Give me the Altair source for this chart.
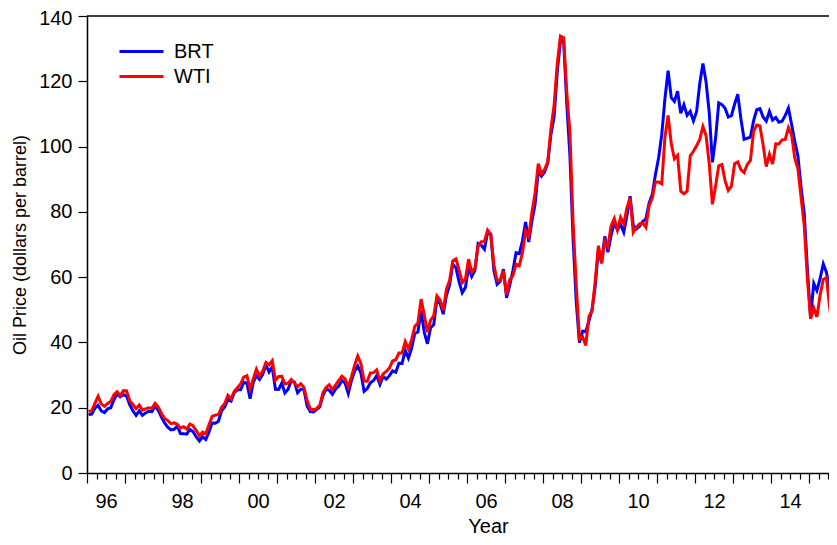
import altair as alt
import pandas as pd

# Monthly spot prices, Jan 1996 - Sep 2015 (dollars per barrel)
start_year = 1996
series_names = ["BRT", "WTI"]
series_colors = ["#0000ff", "#ff0000"]

brt = [
    17.88, 18.05, 19.90, 20.73, 19.05, 18.53, 19.64, 19.95, 22.44, 24.26, 23.31, 24.02,
    23.58, 20.90, 19.07, 17.65, 19.01, 17.65, 18.40, 18.92, 18.82, 20.59, 19.18, 17.16,
    15.37, 14.02, 13.18, 13.38, 14.36, 12.12, 12.06, 11.91, 13.36, 12.65, 11.04, 9.82,
    11.10, 10.27, 12.51, 15.29, 15.23, 15.86, 19.08, 20.22, 22.54, 22.01, 24.58, 25.48,
    25.51, 27.78, 27.49, 22.76, 27.74, 29.80, 28.68, 30.20, 33.14, 30.96, 32.55, 25.66,
    25.62, 27.50, 24.50, 25.66, 28.31, 27.85, 24.61, 25.68, 25.62, 20.54, 18.80, 18.71,
    19.42, 20.28, 23.70, 25.73, 25.35, 24.08, 25.74, 26.65, 28.40, 27.54, 24.34, 28.33,
    31.18, 32.77, 30.61, 25.00, 25.86, 27.65, 28.35, 29.89, 27.11, 29.61, 28.75, 29.81,
    31.28, 30.86, 33.63, 33.59, 37.57, 35.18, 38.22, 42.74, 43.20, 49.78, 43.11, 39.60,
    44.51, 45.48, 53.10, 51.88, 48.65, 54.35, 57.52, 63.98, 62.91, 58.54, 55.24, 56.86,
    62.99, 60.21, 62.06, 70.26, 69.78, 68.56, 73.67, 73.23, 61.96, 57.81, 58.76, 62.47,
    53.68, 57.56, 62.05, 67.49, 67.21, 71.05, 76.93, 70.76, 77.17, 82.34, 92.41, 90.93,
    92.18, 94.99, 103.64, 109.07, 122.80, 132.32, 132.72, 113.24, 97.23, 71.58, 52.45, 39.95,
    43.44, 43.32, 46.54, 50.18, 57.30, 68.61, 64.44, 72.51, 67.65, 72.77, 76.66, 74.46,
    76.17, 73.75, 78.83, 84.82, 75.95, 74.76, 75.58, 77.04, 77.84, 82.67, 85.28, 91.45,
    96.52, 103.72, 114.64, 123.26, 114.99, 113.83, 116.97, 110.22, 112.83, 109.55, 110.77, 107.87,
    110.69, 119.33, 125.45, 119.75, 110.34, 95.16, 102.62, 113.36, 112.86, 111.71, 109.06, 109.49,
    112.96, 116.05, 108.47, 102.25, 102.56, 102.92, 107.93, 111.28, 111.60, 109.08, 107.79, 110.76,
    108.12, 108.90, 107.48, 107.76, 109.54, 111.80, 106.77, 101.61, 97.09, 87.43, 79.44, 62.34,
    47.76, 58.10, 55.89, 59.52, 64.08, 61.48, 56.56, 46.52, 47.62,
]

wti = [
    18.88, 19.06, 21.33, 23.50, 21.17, 20.42, 21.30, 21.90, 23.97, 24.88, 23.71, 25.23,
    25.13, 22.18, 20.97, 19.70, 20.82, 19.26, 19.66, 19.95, 19.80, 21.33, 20.19, 18.33,
    16.72, 16.06, 15.12, 15.35, 14.91, 13.72, 14.17, 13.47, 15.03, 14.46, 13.00, 11.35,
    12.52, 12.01, 14.68, 17.31, 17.72, 17.92, 20.10, 21.28, 23.80, 22.69, 25.00, 26.10,
    27.26, 29.37, 29.84, 25.72, 28.79, 31.82, 29.70, 31.26, 33.88, 33.11, 34.42, 28.44,
    29.59, 29.61, 27.25, 27.49, 28.63, 27.60, 26.43, 27.37, 26.20, 22.17, 19.64, 19.39,
    19.72, 20.72, 24.53, 26.18, 27.04, 25.52, 26.97, 28.39, 29.66, 28.84, 26.35, 29.46,
    32.95, 35.83, 33.51, 28.17, 28.11, 30.66, 30.75, 31.57, 28.31, 30.34, 31.11, 32.13,
    34.31, 34.69, 36.74, 36.75, 40.28, 38.03, 40.78, 44.90, 45.94, 53.28, 48.47, 43.15,
    46.84, 48.15, 54.19, 52.98, 49.83, 56.35, 59.00, 64.99, 65.59, 62.26, 58.32, 59.41,
    65.49, 61.63, 62.69, 69.44, 70.84, 70.95, 74.41, 73.04, 63.80, 58.89, 59.08, 61.96,
    54.51, 59.28, 60.44, 63.98, 63.46, 67.49, 74.12, 72.36, 79.92, 85.80, 94.77, 91.69,
    92.97, 95.39, 105.45, 112.58, 125.40, 133.88, 133.37, 116.67, 104.11, 76.61, 57.31, 41.12,
    41.71, 39.09, 47.94, 49.65, 59.03, 69.64, 64.15, 71.05, 69.41, 75.72, 77.99, 74.47,
    78.33, 76.39, 81.20, 84.29, 73.74, 75.34, 76.32, 76.60, 75.24, 81.89, 84.25, 89.15,
    89.17, 88.58, 102.86, 109.53, 100.90, 96.26, 97.30, 86.33, 85.52, 86.32, 97.16, 98.56,
    100.27, 102.20, 106.16, 103.32, 94.66, 82.30, 87.90, 94.13, 94.51, 89.49, 86.53, 87.86,
    94.76, 95.31, 92.94, 92.02, 94.51, 95.77, 104.67, 106.57, 106.29, 100.54, 93.86, 97.63,
    94.62, 100.82, 100.80, 102.07, 102.18, 105.79, 103.59, 96.54, 93.21, 84.40, 75.79, 59.29,
    47.22, 50.58, 47.82, 54.45, 59.27, 59.82, 50.90, 42.87, 45.48,
]

x_ticks = [1996 + 0.25 * i for i in range(79)]   # quarterly ticks, 1996 .. 2015.5
y_ticks = [0, 20, 40, 60, 80, 100, 120, 140]
x_domain = [1996, 2015.526]   # visible window (figure is cut at the right)
y_domain = [0, 140]

rows = []
for name, vals in zip(series_names, [brt, wti]):
    for i, v in enumerate(vals):
        rows.append({"t": start_year + (i + 0.5) / 12.0, "price": v, "series": name})
df = pd.DataFrame(rows)
top_df = pd.DataFrame({"top": [y_domain[1]]})

FONT = "Liberation Sans"

lines = (
    alt.Chart(df)
    .mark_line(strokeWidth=3, clip=True)
    .encode(
        x=alt.X(
            "t:Q",
            title="Year",
            scale=alt.Scale(domain=x_domain, nice=False, zero=False),
            axis=alt.Axis(
                values=x_ticks,
                labelExpr="datum.value % 2 === 0 ? slice(toString(datum.value), 2) : ''",
                labelOffset=19,
                labelOverlap=False,
                labelFlush=False,
                tickSize={"condition": {"test": "datum.value % 1 === 0", "value": 10}, "value": 6},
                labelPadding=8,
                titleX=401,
                titleY=59,
                titleBaseline="alphabetic",
            ),
        ),
        y=alt.Y(
            "price:Q",
            title="Oil Price (dollars per barrel)",
            scale=alt.Scale(domain=y_domain, nice=False),
            axis=alt.Axis(
                values=y_ticks,
                tickSize=9,
                labelPadding=6,
                titlePadding=9,
                titleFontSize=18,
                labelOffset={"condition": {"test": "datum.value === 140", "value": 2}, "value": 0},
            ),
        ),
        color=alt.Color(
            "series:N",
            title=None,
            scale=alt.Scale(domain=series_names, range=series_colors),
            legend=alt.Legend(
                orient="none",
                legendX=31,
                legendY=23,
                symbolType="stroke",
                symbolSize=1936,
                symbolStrokeWidth=3,
                clipHeight=25,
                rowPadding=0,
                labelFontSize=20,
                labelFont=FONT,
                labelOffset=9,
                labelColor="black",
                padding=0,
            ),
        ),
        order=alt.Order("series:N"),
    )
)

top_border = (
    alt.Chart(top_df)
    .mark_rule(color="black", strokeWidth=1.5)
    .encode(y=alt.Y("top:Q"))
)

chart = (
    alt.layer(lines, top_border)
    .properties(
        width=742,
        height=457,
        autosize=alt.AutoSizeParams(type="none"),
        padding={"left": 79, "top": 8, "right": 0, "bottom": 64},
    )
    .configure_view(stroke=None)
    .configure_axis(
        grid=False,
        domainColor="black",
        domainWidth=1.5,
        tickColor="black",
        tickWidth=1.2,
        labelColor="black",
        titleColor="black",
        labelFont=FONT,
        titleFont=FONT,
        labelFontSize=20,
        titleFontSize=20,
        titleFontWeight="normal",
    )
)

chart.save("out.html", embed_options={"renderer": "svg", "actions": False})
